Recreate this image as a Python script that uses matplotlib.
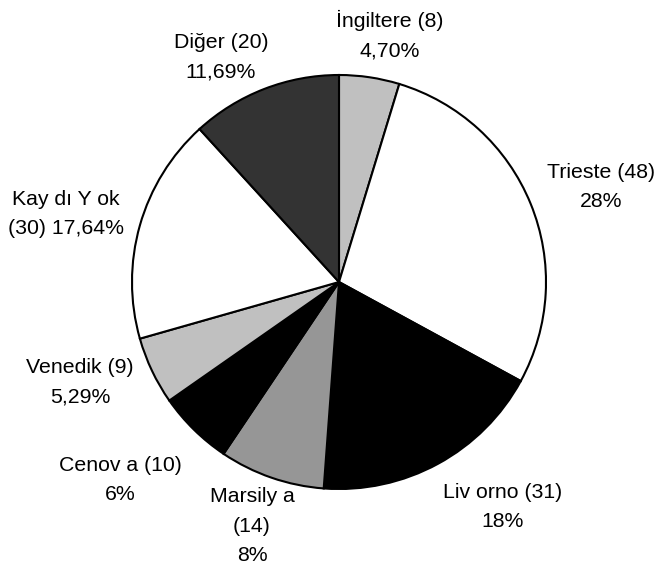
import matplotlib.pyplot as plt

plt.rcParams['font.family'] = ['Liberation Sans', 'DejaVu Sans']

# data, clockwise from 12 o'clock
names = ['İngiltere', 'Trieste', 'Liv orno', 'Marsily a', 'Cenov a', 'Venedik', 'Kay dı Y ok', 'Diğer']
counts = [8, 48, 31, 14, 10, 9, 30, 20]
pct_text = ['4,70%', '28%', '18%', '8%', '6%', '5,29%', '17,64%', '11,69%']
colors = ['#c0c0c0', '#ffffff', '#000000', '#969696', '#000000', '#c0c0c0', '#ffffff', '#333333']

W, H = 656, 569
fig = plt.figure(figsize=(W / 100, H / 100), dpi=100)
ax = fig.add_axes([0, 0, 1, 1])

ax.pie(counts, colors=colors, startangle=90, counterclock=False,
       radius=207, center=(339, H - 282),
       wedgeprops=dict(edgecolor='black', linewidth=1.5))
ax.set_xlim(0, W)
ax.set_ylim(0, H)
ax.set_aspect('equal')
ax.axis('off')

# label layout: text centre in pixels (x, y from top), and how the lines break
label_pos = [(390, 35), (601, 187), (503, 507), (252, 526),
             (120, 480), (80, 382), (66, 214), (221, 57)]
for i, (nm, c, p) in enumerate(zip(names, counts, pct_text)):
    if nm == 'Marsily a':
        s = f'{nm}\n({c})\n{p}'
    elif nm == 'Kay dı Y ok':
        s = f'{nm}\n({c}) {p}'
    else:
        s = f'{nm} ({c})\n{p}'
    x, y = label_pos[i]
    ax.text(x, H - y, s, ha='center', va='center', fontsize=15.3,
            linespacing=1.72, multialignment='center')

fig.savefig('out.png', dpi=100)
